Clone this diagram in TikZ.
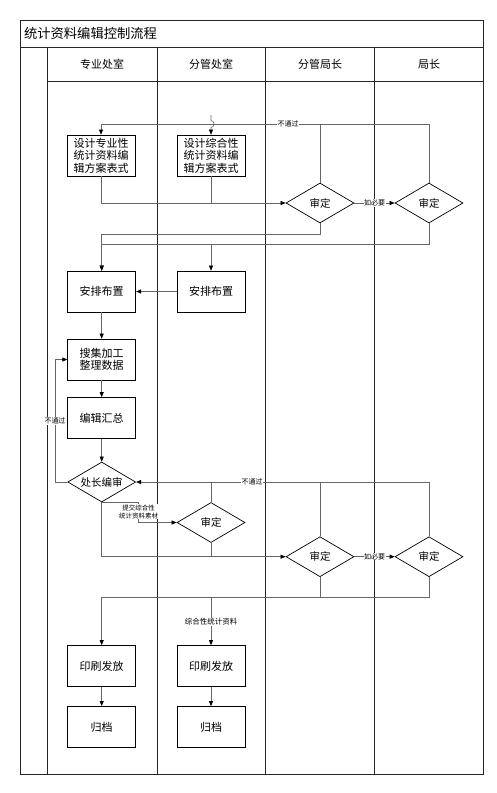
\documentclass[tikz,border=0pt]{standalone}
\usepackage{fontspec}
\setmainfont{Noto Sans CJK SC}
\usepackage{tikz}
\usetikzlibrary{arrows.meta}
\usetikzlibrary{positioning,shapes.geometric}
\usetikzlibrary{calc}
\tikzset{
    task/.style={
        draw,
        rectangle,
        fill=white,
        line width=0.7pt,
        minimum width=68pt,
        minimum height=41pt,
        inner sep=1pt,
        align=center,
        font=\fontsize{11}{12.5}\selectfont
    },
    check/.style={
        draw,
        diamond,
        fill=white,
        line width=0.7pt,
        aspect=1.7,
        minimum width=68pt,
        minimum height=40pt,
        inner sep=0pt,
        font=\fontsize{10.5}{12}\selectfont
    },
    note/.style={
        fill=white,
        inner sep=0.5pt,
        align=center,
        font=\fontsize{7}{8}\selectfont
    }
}

\begin{document}
\begin{tikzpicture}[
    x = 1pt,
    y = -1pt,
    > = {Triangle[length=5pt, width=4pt, color=black]},
    flow/.style = {draw=black!60, line width=0.6pt},
    lane/.style = {draw=black!85, line width=0.7pt},
    head node/.style = {font=\fontsize{11}{12}\selectfont}
]
\useasboundingbox (0,0) rectangle (497,793);

% Define the swimlane frame
\draw[lane] (20,20.5) rectangle (483,774.5);
\draw[lane] (20,47) -- (483,47);
\draw[lane] (47,81) -- (483,81);
\foreach \x in {47,157,265,374}
    \draw[lane] (\x,47) -- (\x,774.5);

\node[anchor=west, font=\fontsize{13.3}{14}\selectfont] (title) at (20.5,33.5) {统计资料编辑控制流程};
\node[head node] (lane1) at (102,64) {专业处室};
\node[head node] (lane2) at (211,64) {分管处室};
\node[head node] (lane3) at (320,64) {分管局长};
\node[head node] (lane4) at (429,64) {局长};

% Define the steps
\node[task] (design1) at (101,155.5) {设计专业性\\统计资料编\\辑方案表式};
\node[task] (design2) at (211,155.5) {设计综合性\\统计资料编\\辑方案表式};
\node[check] (check1) at (320,203) {审定};
\node[check] (check2) at (429,203) {审定};
\node[task] (arrange1) at (101.7,291.5) {安排布置};
\node[task] (arrange2) at (211,291.5) {安排布置};
\node[task] (collect) at (101.7,359.5) {搜集加工\\整理数据};
\node[task] (edit) at (101.7,418) {编辑汇总};
\node[check] (review) at (101.7,482) {处长编审};
\node[check] (check3) at (211,522.5) {审定};
\node[check] (check4) at (320,556.7) {审定};
\node[check] (check5) at (429,556.7) {审定};
\node[task] (print1) at (101.7,666) {印刷发放};
\node[task] (print2) at (211,666) {印刷发放};
\node[task] (archive1) at (101.7,727) {归档};
\node[task] (archive2) at (211,727) {归档};

% Define the connectors
\coordinate (start) at (211,115);
\coordinate (fail1) at (101,124);
\coordinate (join1) at (101.7,244);
\coordinate (join2) at (101.7,597);

% Design and first check
\draw[flow, ->] (start) -- (211,120.5) .. controls (215,120.5) and (215,127.5) .. (211,127.5) -- (design2.north);
\draw[flow, ->] (check2.north) |- (fail1) -- (design1.north);
\draw[flow] (check1.north) -- (check1.north |- fail1);
\node[note] (fail1 label) at (288,124) {不通过};
\draw[flow, ->] (design1.south) |- (check1.west);
\draw[flow] (design2.south) -- (design2.south |- check1.west);
\draw[flow, ->] (check1.east) -- node[note] (need1) {如必要} (check2.west);

% Arrange the work
\draw[flow, ->] (check1.south) -- ++(0,11) -| (arrange1.north);
\draw[flow, ->] (check2.south) |- (join1) -- (arrange1.north);
\draw[flow, ->] (arrange2.north |- join1) -- (arrange2.north);
\draw[flow, ->] (arrange2.west) -- (arrange1.east);
\draw[flow, ->] (arrange1.south) -- (collect.north);
\draw[flow, ->] (collect.south) -- (edit.north);
\draw[flow, ->] (edit.south) -- (review.north);

% Review loop
\draw[flow, ->] (review.west) -- ++(-12,0) |- (collect.west);
\node[note] (fail2 label) at (55,421) {不通过};
\draw[flow, ->] (check5.north) |- (review.east);
\draw[flow] (check3.north) -- (check3.north |- review.east);
\draw[flow] (check4.north) -- (check4.north |- review.east);
\node[note] (fail3 label) at (252,482) {不通过};

% Second round of checks
\draw[flow, ->] (review.south) -- ++(37,0) |- (check3.west);
\node[note, font=\fontsize{6.5}{8}\selectfont] (submit) at (138.7,511.5) {提交综合性\\统计资料素材};
\draw[flow, ->] (review.south) |- (check4.west);
\draw[flow] (check3.south) -- (check3.south |- check4.west);
\draw[flow, ->] (check4.east) -- node[note] (need2) {如必要} (check5.west);

% Print and archive
\draw[flow] (check5.south) |- (join2);
\draw[flow] (check4.south) -- (check4.south |- join2);
\draw[flow, ->] (join2) -- (print1.north);
\draw[flow, ->] (print2.north |- join2) -- (print2.north);
\node[note, font=\fontsize{7.5}{8}\selectfont] (summary) at (211,622) {综合性统计资料};
\draw[flow, ->] (print1.south) -- (archive1.north);
\draw[flow, ->] (print2.south) -- (archive2.north);

\end{tikzpicture}
\end{document}
